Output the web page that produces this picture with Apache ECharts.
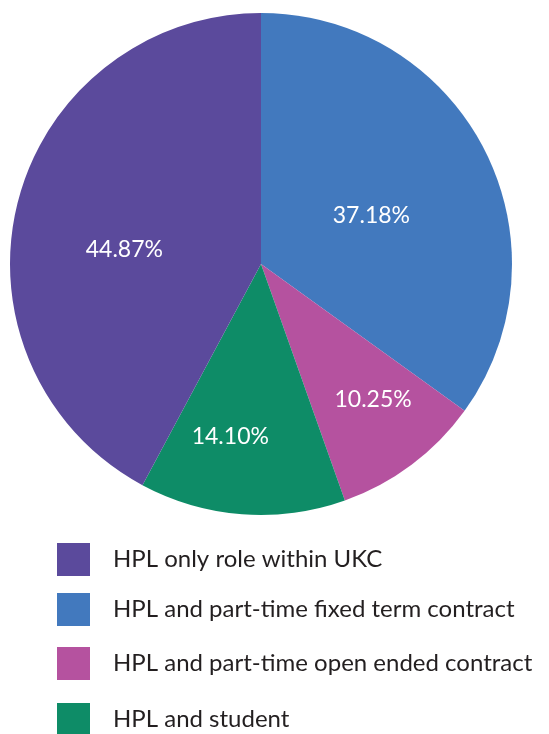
<!DOCTYPE html>
<html>
<head>
<meta charset="utf-8">
<script src="https://cdn.jsdelivr.net/npm/echarts@6/dist/echarts.min.js"></script>
<style>
  html, body { margin: 0; padding: 0; background: #fff; }
  #chart { width: 549px; height: 734px; }
</style>
</head>
<body>
<div id="chart"></div>
<script>
// slice order, clockwise from 12 o'clock
const categories = [
  'HPL and part-time fixed term contract',
  'HPL and part-time open ended contract',
  'HPL and student',
  'HPL only role within UKC'
];
const shares = [37.18, 10.25, 14.10, 44.87];
const colors = ['#4279be', '#b5529f', '#0e8c67', '#5b4a9c'];
// legend order as printed under the pie
const legendOrder = [
  'HPL only role within UKC',
  'HPL and part-time fixed term contract',
  'HPL and part-time open ended contract',
  'HPL and student'
];
const legendTops = [543, 593, 647, 703];

// small slices carry their label further out
const labelOffsets = [[-4, 10], [35, 33], [-21, 44], [-12, 17]];

const chart = echarts.init(document.getElementById('chart'));

const legends = legendOrder.map((name, i) => ({
  data: [name],
  left: 57,
  top: legendTops[i],
  padding: 0,
  orient: 'vertical',
  icon: 'rect',
  itemWidth: 33,
  itemHeight: 33,
  selectedMode: false,
  textStyle: {
    fontFamily: 'Lato',
    fontSize: 24,
    color: '#231f20',
    padding: [0, 0, 0, 18]
  }
}));

chart.setOption({
  animation: false,
  color: colors,
  legend: legends,
  series: [
    {
      type: 'pie',
      center: [261, 264],
      radius: 251,
      startAngle: 90,
      clockwise: true,
      silent: true,
      itemStyle: { borderWidth: 0 },
      label: {
        show: true,
        position: 'inside',
        color: '#fff',
        fontFamily: 'Lato',
        fontSize: 23,
        formatter: p => p.value.toFixed(2) + '%'
      },
      labelLine: { show: false },
      data: categories.map((name, i) => ({
        name: name,
        value: shares[i],
        label: { offset: labelOffsets[i] }
      }))
    }
  ]
});
</script>
</body>
</html>
